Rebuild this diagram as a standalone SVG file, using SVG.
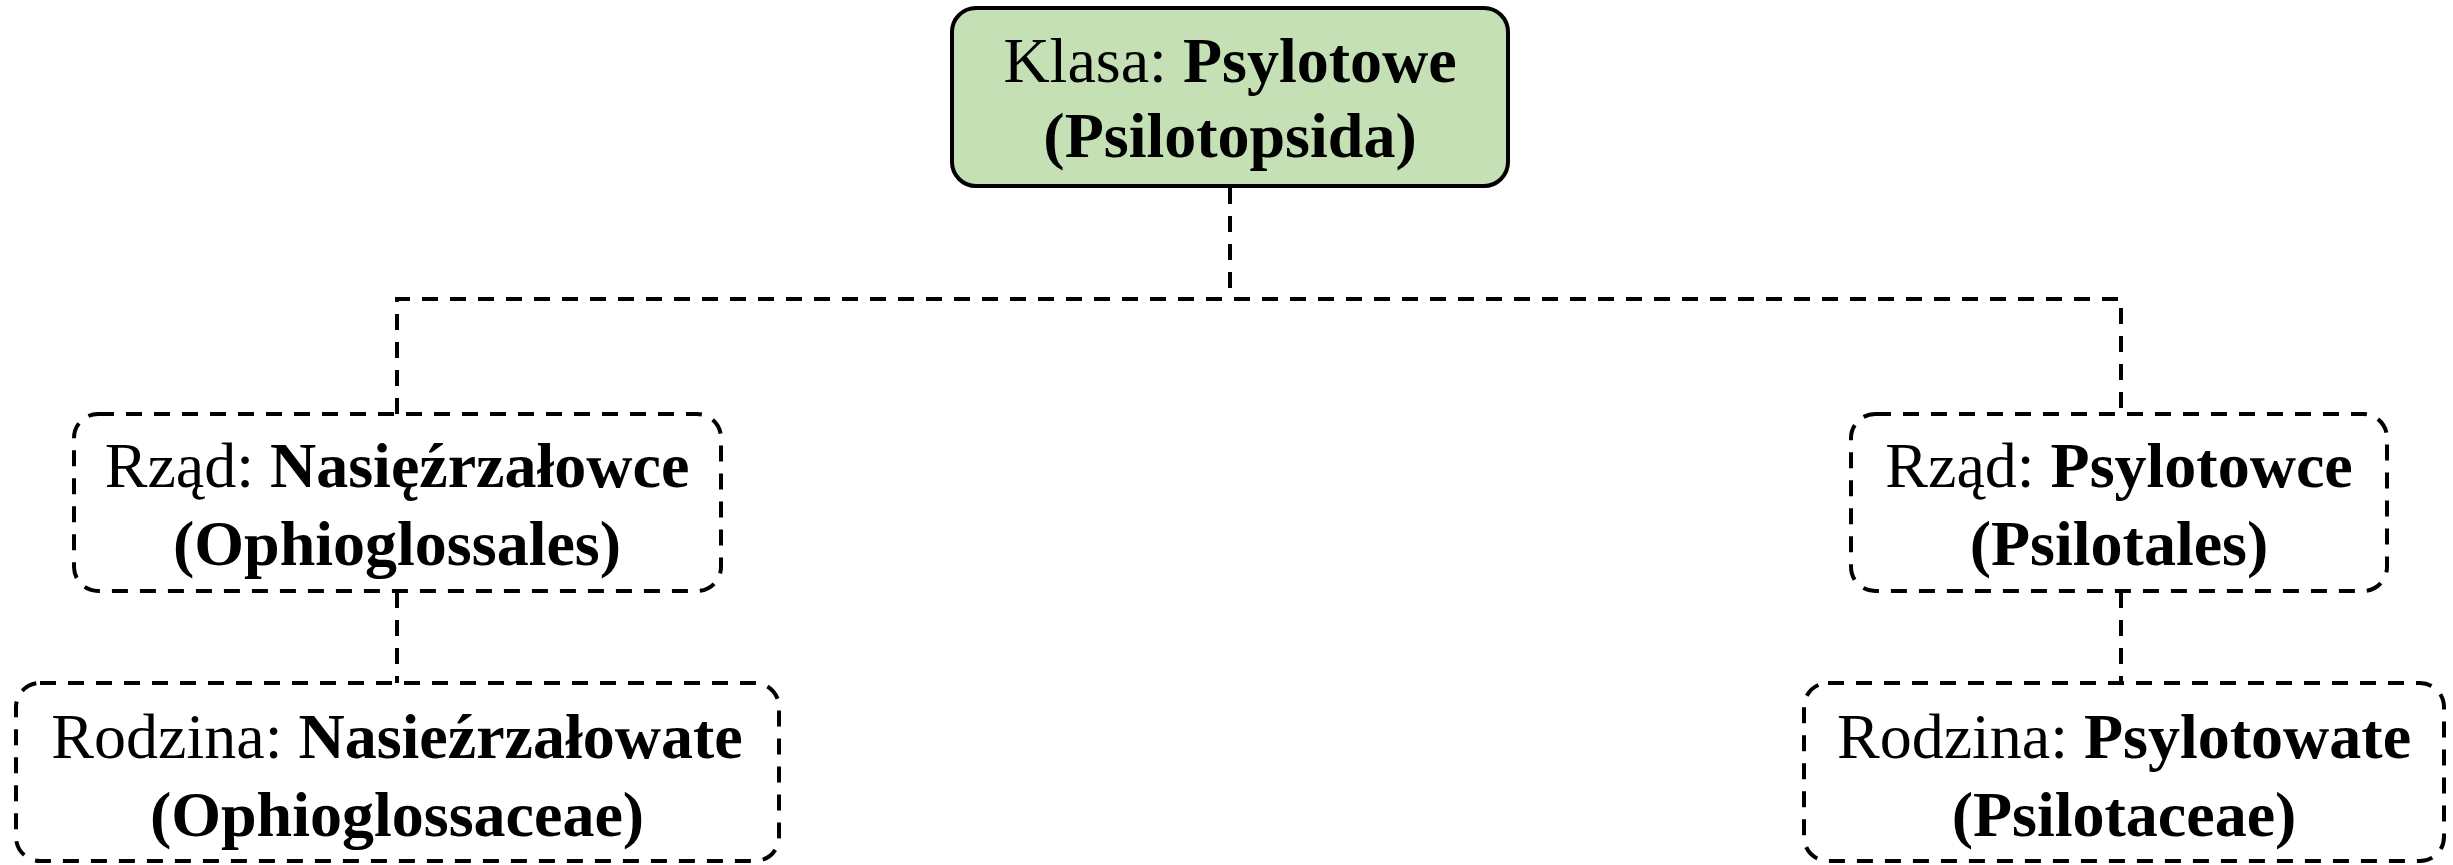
<svg xmlns="http://www.w3.org/2000/svg" width="2453" height="865" viewBox="0 0 2453 865">
<style>
.box{fill:#fff;stroke:#000;stroke-width:4;stroke-dasharray:16 12}
.main{fill:#C5E0B4;stroke:#000;stroke-width:4}
.con{fill:none;stroke:#000;stroke-width:4;stroke-dasharray:16 12}
text{font-family:"Liberation Serif","Times New Roman",serif;font-size:64px;fill:#000;text-anchor:middle}
.b{font-weight:bold}
</style>
<rect width="2453" height="865" fill="#fff"/>
<g id="connectors">
<path class="con" d="M1230 188 V299"/>
<path class="con" d="M397 414 V299 H2121 V414"/>
<path class="con" d="M397 592 V683"/>
<path class="con" d="M2121 592 V683"/>
</g>
<g id="klasa">
<rect class="main" x="952" y="8" width="556" height="178" rx="24"/>
<text x="1230" y="82">Klasa: <tspan class="b">Psylotowe</tspan></text>
<text x="1230" y="157" class="b">(Psilotopsida)</text>
</g>
<g id="rzad1">
<rect class="box" x="74" y="414" width="647" height="177" rx="24"/>
<text x="397" y="487">Rząd: <tspan class="b">Nasięźrzałowce</tspan></text>
<text x="397" y="565" class="b">(Ophioglossales)</text>
</g>
<g id="rzad2">
<rect class="box" x="1851" y="414" width="536" height="177" rx="24"/>
<text x="2119" y="487">Rząd: <tspan class="b">Psylotowce</tspan></text>
<text x="2119" y="565" class="b">(Psilotales)</text>
</g>
<g id="rodzina1">
<rect class="box" x="16" y="683" width="763" height="178" rx="24"/>
<text x="397" y="758">Rodzina: <tspan class="b">Nasieźrzałowate</tspan></text>
<text x="397" y="836" class="b">(Ophioglossaceae)</text>
</g>
<g id="rodzina2">
<rect class="box" x="1804" y="683" width="640" height="178" rx="24"/>
<text x="2124" y="758">Rodzina: <tspan class="b">Psylotowate</tspan></text>
<text x="2124" y="836" class="b">(Psilotaceae)</text>
</g>
</svg>
